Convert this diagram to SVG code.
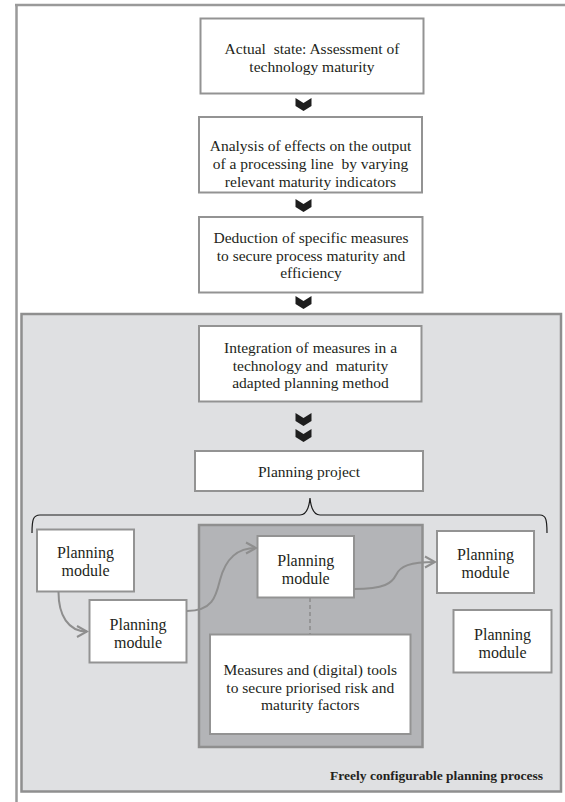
<svg xmlns="http://www.w3.org/2000/svg" width="565" height="802" viewBox="0 0 565 802">
<style>
.box{fill:#ffffff;stroke:#939393;stroke-width:2}
.t{font-family:"Liberation Serif","Times New Roman",serif;font-size:15.5px;fill:#231f20;text-anchor:middle}
.pm{font-size:16px}
.conn{fill:none;stroke:#8e8e8e;stroke-width:2}
.chev{fill:#1e1e1e}
</style>
<defs>
<path id="chev" d="M-8,0 L0,5 L8,0 L8,8 L0,13 L-8,8 Z"/>
<marker id="ah" markerWidth="14" markerHeight="14" viewBox="-12 -7 14 14" refX="0" refY="0" orient="auto" markerUnits="userSpaceOnUse">
<path d="M-10,-5.5 L0,0 L-10,5.5" fill="none" stroke="#8e8e8e" stroke-width="2"/>
</marker>
</defs>
<rect width="565" height="802" fill="#ffffff"/>
<g id="frame">
<path d="M15,5 L565,5 M16.5,4 L16.5,802" fill="none" stroke="#9a9a9a" stroke-width="2.5"/>
</g>
<g id="planning-process">
<rect x="21.5" y="314" width="539.5" height="477.5" fill="#dfe0e2" stroke="#8f8f8f" stroke-width="2.5"/>
<text class="t" x="543" y="780" style="font-weight:bold;font-size:13.5px;text-anchor:end">Freely configurable planning process</text>
</g>
<g id="core-region">
<rect x="199" y="525" width="223.5" height="222" fill="#b3b4b7" stroke="#8f8f8f" stroke-width="2.5"/>
</g>
<g id="n1">
<rect class="box" x="200.5" y="18.5" width="223" height="75"/>
<text class="t" x="312" y="54" xml:space="preserve">Actual  state: Assessment of</text>
<text class="t" x="312" y="72">technology maturity</text>
</g>
<g id="n2">
<rect class="box" x="199" y="117" width="223" height="75.5"/>
<text class="t" x="310.5" y="150.5">Analysis of effects on the output</text>
<text class="t" x="310.5" y="168.5" xml:space="preserve">of a processing line  by varying</text>
<text class="t" x="310.5" y="186.5">relevant maturity indicators</text>
</g>
<g id="n3">
<rect class="box" x="199" y="217" width="223.5" height="75.5"/>
<text class="t" x="311" y="243">Deduction of specific measures</text>
<text class="t" x="311" y="261">to secure process maturity and</text>
<text class="t" x="311" y="278">efficiency</text>
</g>
<g id="n4">
<rect class="box" x="199" y="326" width="222.5" height="75.5"/>
<text class="t" x="310.5" y="353">Integration of measures in a</text>
<text class="t" x="310.5" y="371" xml:space="preserve">technology and  maturity</text>
<text class="t" x="310.5" y="388">adapted planning method</text>
</g>
<g id="n5">
<rect class="box" x="195" y="451" width="228" height="40"/>
<text class="t" x="309" y="477">Planning project</text>
</g>
<g id="pm1">
<rect class="box" x="37" y="529.5" width="97" height="62"/>
<text class="t pm" x="85.5" y="558">Planning</text>
<text class="t pm" x="85.5" y="576">module</text>
</g>
<g id="pm2">
<rect class="box" x="89.5" y="600" width="97" height="62.5"/>
<text class="t pm" x="138" y="630">Planning</text>
<text class="t pm" x="138" y="648">module</text>
</g>
<g id="pm3">
<rect class="box" x="257.5" y="536" width="96.5" height="61.5"/>
<text class="t pm" x="305.7" y="566">Planning</text>
<text class="t pm" x="305.7" y="584">module</text>
</g>
<g id="pm4">
<rect class="box" x="437" y="531" width="97" height="62"/>
<text class="t pm" x="485.5" y="560">Planning</text>
<text class="t pm" x="485.5" y="578">module</text>
</g>
<g id="pm5">
<rect class="box" x="453.5" y="610" width="98" height="62.5"/>
<text class="t pm" x="502.5" y="640">Planning</text>
<text class="t pm" x="502.5" y="658">module</text>
</g>
<g id="measures">
<rect class="box" x="210" y="634.5" width="200.5" height="99.5"/>
<text class="t" x="310.3" y="675">Measures and (digital) tools</text>
<text class="t" x="310.3" y="692.5">to secure priorised risk and</text>
<text class="t" x="310.3" y="710">maturity factors</text>
</g>
<g id="connectors">
<use href="#chev" class="chev" x="303.5" y="98"/>
<use href="#chev" class="chev" x="303.5" y="199"/>
<use href="#chev" class="chev" x="303.5" y="296"/>
<use href="#chev" class="chev" x="303.5" y="413"/>
<use href="#chev" class="chev" x="303.5" y="429"/>
<path d="M32,533 C32,520 33,515 40,515 L300,515 C306,515 309,508 310,498 C311,508 314,515 320,515 L540,515 C546,515 547,520 547,533" fill="none" stroke="#1a1a1a" stroke-width="1.2"/>
<path class="conn" d="M58.5,592 C58.5,615 68,631.5 87,631.5" marker-end="url(#ah)"/>
<path class="conn" d="M187,611 C213,611 216,596 220,580 C226,557 238,548 256,548" marker-end="url(#ah)"/>
<path class="conn" d="M354,589 C385,589 392,583 396,575 C400,566 410,562 435,562" marker-end="url(#ah)"/>
<path d="M310,598 L310,634" fill="none" stroke="#8e8e8e" stroke-width="1.6" stroke-dasharray="4,3"/>
</g>
</svg>
